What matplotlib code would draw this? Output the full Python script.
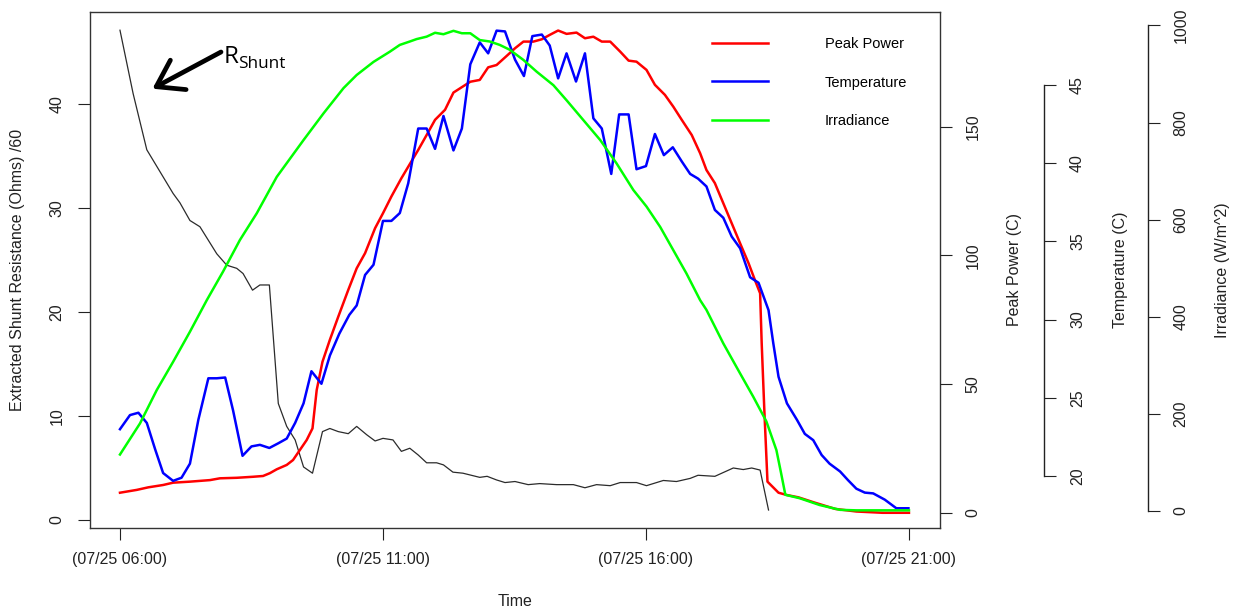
import matplotlib
matplotlib.use("Agg")
import matplotlib.pyplot as plt

plt.rcParams["font.family"] = ["Liberation Sans", "DejaVu Sans"]

W, H, DPI = 1237, 613, 100


def fx(px):
    return px / W


def fy(py):
    return 1 - py / H


# Extracted shunt resistance (Ohms / 60), hours of 07/25
rsh_t = [6.00, 6.25, 6.51, 7.01, 7.14, 7.33, 7.52, 7.84, 8.03, 8.22, 8.34, 8.52,
         8.66, 8.84, 9.01, 9.17, 9.33, 9.49, 9.66, 9.85, 9.99, 10.15, 10.34, 10.50,
         10.69, 10.85, 11.00, 11.19, 11.35, 11.51, 11.67, 11.83, 12.02, 12.15, 12.33,
         12.52, 12.68, 12.84, 12.98, 13.16, 13.32, 13.51, 13.76, 13.98, 14.30, 14.62,
         14.84, 15.06, 15.32, 15.51, 15.82, 16.01, 16.33, 16.58, 16.84, 16.99, 17.31,
         17.66, 17.85, 18.01, 18.17, 18.33]
rsh = [47.1, 41.0, 35.6, 31.4, 30.5, 28.8, 28.2, 25.6, 24.5, 24.2, 23.7, 22.1,
       22.6, 22.6, 11.2, 9.0, 7.7, 5.1, 4.5, 8.5, 8.8, 8.5, 8.3, 9.0,
       8.2, 7.6, 7.85, 7.7, 6.6, 6.9, 6.25, 5.5, 5.5, 5.3, 4.6,
       4.5, 4.3, 4.1, 4.2, 3.85, 3.6, 3.7, 3.4, 3.5, 3.4, 3.4,
       3.1, 3.4, 3.3, 3.6, 3.6, 3.3, 3.8, 3.7, 4.0, 4.3, 4.2,
       5.0, 4.85, 5.0, 4.8, 0.96]

# Peak power
pp_t = [6.00, 6.32, 6.54, 6.82, 7.01, 7.33, 7.71, 7.90, 8.22, 8.53, 8.72, 8.85,
        8.98, 9.17, 9.29, 9.42, 9.55, 9.66, 9.74, 9.85, 9.99, 10.15, 10.34, 10.50,
        10.66, 10.85, 11.00, 11.16, 11.35, 11.51, 11.67, 11.83, 11.99, 12.18, 12.34,
        12.50, 12.66, 12.84, 13.00, 13.16, 13.35, 13.51, 13.67, 13.86, 14.02, 14.17,
        14.33, 14.49, 14.68, 14.84, 15.00, 15.16, 15.32, 15.51, 15.67, 15.82, 16.01,
        16.17, 16.36, 16.52, 16.68, 16.87, 17.03, 17.15, 17.31, 17.47, 17.63, 17.79,
        17.95, 18.07, 18.17, 18.20, 18.25, 18.31, 18.52, 18.68, 18.90, 19.20, 19.60,
        20.00, 20.50, 21.00]
pp = [7.8, 8.9, 9.9, 10.8, 11.7, 12.1, 12.7, 13.4, 13.6, 14.0, 14.3, 15.4,
      16.9, 18.6, 20.5, 24.4, 28.3, 32.8, 47.7, 58.7, 67.2, 76.2, 86.6, 95.0,
      100.9, 110.6, 116.4, 122.9, 130.0, 135.5, 141.0, 146.8, 152.7, 156.6, 163.3,
      165.4, 167.5, 168.2, 173.1, 174.0, 177.5, 180.5, 183.1, 183.1, 184.0, 185.7,
      187.4, 186.1, 186.6, 184.4, 185.0, 183.1, 183.1, 179.2, 175.7, 175.3, 172.1,
      166.3, 162.4, 157.8, 152.7, 146.8, 139.7, 133.2, 128.1, 120.3, 112.5, 104.7,
      97.0, 90.5, 85.3, 65.9, 40.0, 12.1, 7.8, 6.9, 6.0, 4.0, 1.5,
      0.5, 0.0, 0.0]

# Module temperature (C)
temp_t = [6.00, 6.19, 6.35, 6.51, 6.67, 6.82, 7.01, 7.17, 7.33, 7.49, 7.68, 7.84,
          8.00, 8.15, 8.33, 8.50, 8.66, 8.84, 9.01, 9.17, 9.33, 9.49, 9.64, 9.83,
          9.99, 10.17, 10.36, 10.50, 10.66, 10.82, 11.00, 11.16, 11.32, 11.48, 11.67,
          11.83, 11.99, 12.15, 12.34, 12.50, 12.66, 12.84, 13.00, 13.16, 13.32, 13.51,
          13.68, 13.84, 14.02, 14.17, 14.33, 14.49, 14.67, 14.84, 15.00, 15.16, 15.34,
          15.49, 15.67, 15.82, 16.00, 16.17, 16.34, 16.51, 16.68, 16.84, 16.99, 17.15,
          17.31, 17.47, 17.63, 17.79, 17.98, 18.14, 18.33, 18.42, 18.52, 18.68, 18.87,
          19.02, 19.18, 19.34, 19.49, 19.69, 19.84, 20.00, 20.16, 20.32, 20.54, 20.76,
          20.99]
temp = [23.0, 23.9, 24.05, 23.4, 21.7, 20.2, 19.7, 19.9, 20.8, 23.6, 26.25, 26.25,
        26.3, 24.2, 21.3, 21.9, 22.0, 21.8, 22.1, 22.4, 23.4, 24.65, 26.7, 25.9,
        27.7, 29.1, 30.3, 30.9, 32.85, 33.5, 36.3, 36.3, 36.8, 38.7, 42.2,
        42.2, 40.9, 43.0, 40.8, 42.2, 46.3, 47.7, 47.0, 48.45, 48.4, 46.6,
        45.55, 48.1, 48.2, 47.5, 45.4, 47.0, 45.2, 47.0, 42.85, 42.2, 39.3,
        43.1, 43.1, 39.6, 39.8, 41.85, 40.5, 41.0, 40.1, 39.3, 39.0, 38.5,
        37.0, 36.5, 35.3, 34.55, 32.7, 32.35, 30.6, 28.5, 26.35, 24.65, 23.6,
        22.7, 22.3, 21.35, 20.8, 20.3, 19.75, 19.2, 18.95, 18.9, 18.5, 17.95,
        17.95]

# Irradiance (W/m^2)
irr_t = [6.00, 6.38, 6.70, 7.01, 7.33, 7.65, 7.96, 8.28, 8.60, 8.98, 9.49, 9.87,
         10.25, 10.50, 10.82, 11.13, 11.32, 11.51, 11.64, 11.83, 11.99, 12.15, 12.34,
         12.50, 12.66, 12.84, 13.03, 13.22, 13.41, 13.67, 13.92, 14.24, 14.49, 14.81,
         15.13, 15.44, 15.76, 16.01, 16.27, 16.52, 16.77, 17.03, 17.15, 17.47, 17.79,
         18.04, 18.29, 18.48, 18.57, 18.65, 18.92, 19.30, 19.69, 20.00, 20.50, 21.00]
irr = [116, 180, 249, 307, 369, 434, 493, 558, 613, 688, 764, 819,
       871, 898, 925, 946, 960, 967, 972, 977, 985, 982, 989,
       984, 984, 970, 967, 960, 950, 929, 905, 877, 846, 805,
       764, 716, 661, 627, 585, 537, 489, 434, 414, 345, 283,
       235, 184, 125, 77, 33, 26, 12, 2, 1, 1, 1]

time_ticks = [6, 11, 16, 21]
time_labels = ["(07/25 06:00)", "(07/25 11:00)", "(07/25 16:00)", "(07/25 21:00)"]

FS = 11.5
TICK_LEN = 8.5

fig = plt.figure(figsize=(W / DPI, H / DPI), dpi=DPI)
ax = fig.add_axes([fx(90), fy(528), fx(940) - fx(90), fy(12) - fy(528)])

# shunt resistance on the main (left) axis
ax.plot(rsh_t, rsh, color="#2b2b2b", lw=0.9)
ax.set_xlim(5.43, 21.59)
ax.set_ylim(-0.77, 48.85)
ax.set_xticks(time_ticks)
ax.set_xticklabels(time_labels)
ax.set_yticks([0, 10, 20, 30, 40])
ax.tick_params(axis="x", length=TICK_LEN, width=0.8, pad=9, labelsize=FS, colors="#222222")
ax.tick_params(axis="y", length=TICK_LEN, width=0.8, pad=10, labelsize=FS, colors="#222222")
for lab in ax.get_yticklabels():
    lab.set_rotation(90)
    lab.set_va("center")
for sp in ax.spines.values():
    sp.set_linewidth(1.0)
    sp.set_color("#333333")


def side_axis(ylim, ticks, pos, bounds):
    a = ax.twinx()
    a.set_ylim(*ylim)
    a.set_yticks(ticks)
    for name in ("top", "bottom", "left"):
        a.spines[name].set_visible(False)
    sp = a.spines["right"]
    if pos is None:
        sp.set_visible(False)
    else:
        sp.set_position(("axes", pos))
        sp.set_bounds(*bounds)
        sp.set_linewidth(1.0)
        sp.set_color("#222222")
    a.tick_params(axis="y", length=TICK_LEN, width=0.8, pad=10, labelsize=FS, colors="#222222")
    for lab in a.get_yticklabels():
        lab.set_rotation(90)
        lab.set_va("center")
    return a


ax_pp = side_axis((-5.91, 194.6), [0, 50, 100, 150], None, None)
ax_tc = side_axis((16.69, 49.64), [20, 25, 30, 35, 40, 45], (1044.3 - 90) / 850, (20, 45))
ax_ir = side_axis((-35.4, 1027.8), [0, 200, 400, 600, 800, 1000], (1148 - 90) / 850, (0, 1000))

l_pp, = ax_pp.plot(pp_t, pp, color="#ff0000", lw=1.8, label="Peak Power")
l_tc, = ax_tc.plot(temp_t, temp, color="#0000ff", lw=1.8, label="Temperature")
l_ir, = ax_ir.plot(irr_t, irr, color="#00ff00", lw=1.8, label="Irradiance")

ax_ir.legend(handles=[l_pp, l_tc, l_ir], loc="upper left", frameon=False,
             bbox_to_anchor=(fx(712), fy(37)), bbox_transform=fig.transFigure,
             fontsize=10.5, handlelength=3.84, handletextpad=3.9, labelspacing=1.68,
             borderpad=0, borderaxespad=0)

# axis titles
fig.text(fx(515), fy(602), "Time", ha="center", va="center", fontsize=FS, color="#222222")
fig.text(fx(18), fy(270), "Extracted Shunt Resistance (Ohms) /60", rotation=90,
         ha="center", va="center", fontsize=FS, color="#222222")
fig.text(fx(1015), fy(270), "Peak Power (C)", rotation=90, ha="center", va="center",
         fontsize=FS, color="#222222")
fig.text(fx(1120), fy(270), "Temperature (C)", rotation=90, ha="center", va="center",
         fontsize=FS, color="#222222")
fig.text(fx(1222), fy(270), "Irradiance (W/m^2)", rotation=90, ha="center", va="center",
         fontsize=FS, color="#222222")

# R_shunt callout
ax_ir.annotate("", xy=(fx(150), fy(90)), xytext=(fx(221), fy(52)),
               xycoords="figure fraction", textcoords="figure fraction",
               arrowprops=dict(arrowstyle="->,head_length=0.75,head_width=0.5",
                               lw=3.4, color="black", mutation_scale=24,
                               shrinkA=0, shrinkB=2))
fig.text(fx(224), fy(63.3), "R", fontsize=17.5, family="Open Sans", va="baseline")
fig.text(fx(238), fy(67.7), "Shunt", fontsize=12.3, family="Open Sans", va="baseline")

fig.savefig("out.png", dpi=DPI)
